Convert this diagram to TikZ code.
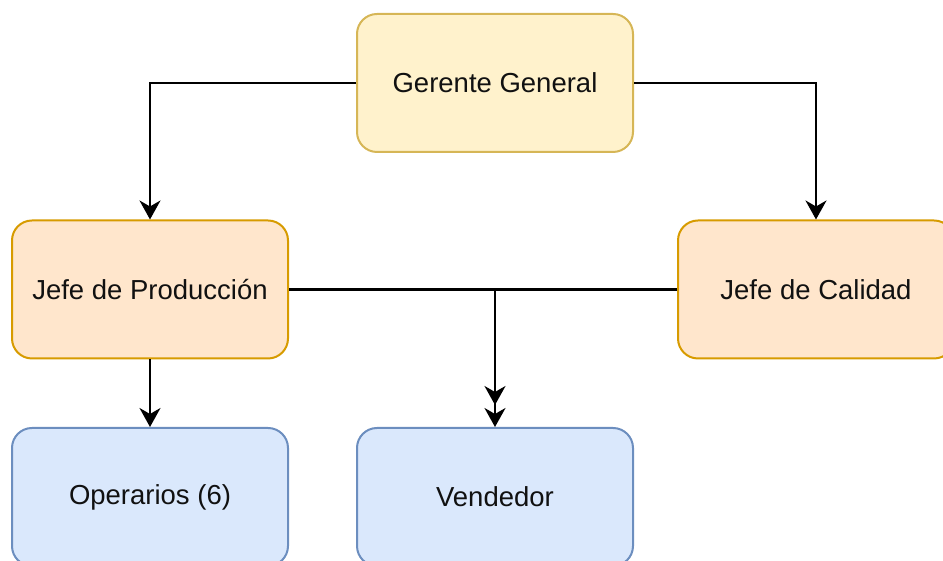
\documentclass[tikz,border=0pt]{standalone}
\usepackage{fontspec}
\setmainfont{Liberation Sans}
\usepackage{tikz}
\usetikzlibrary{positioning,calc,arrows.meta}
\usepackage{xcolor}

\definecolor{ggfill}{HTML}{FFF2CC}
\definecolor{ggline}{HTML}{D6B656}
\definecolor{jefill}{HTML}{FFE6CC}
\definecolor{jeline}{HTML}{D79B00}
\definecolor{opfill}{HTML}{DAE8FC}
\definecolor{opline}{HTML}{6C8EBF}
\definecolor{txt}{HTML}{111111}

\tikzset{
  box/.style={rectangle, rounded corners=20pt, line width=2pt,
    minimum width=276pt, minimum height=138pt, text=txt,
    font=\fontsize{27.5}{33}\selectfont},
  arr/.style={line width=2.2pt, -{Stealth[length=19pt, width=21pt, inset=6pt]}}
}

\begin{document}
\begin{tikzpicture}[x=1pt, y=1pt]
    \useasboundingbox (0,0) rectangle (943,561);
    \clip (0,0) rectangle (943,561);

      % Top
      \node[box, fill=ggfill, draw=ggline] (gerente) at (495, 478) {Gerente General};

      % Jefes
      \node[box, fill=jefill, draw=jeline] (produccion) at (150, 271.5) {Jefe de Producción};
      \node[box, fill=jefill, draw=jeline] (calidad) at (816, 271.5) {Jefe de Calidad};

      % Bottom
      \node[box, fill=opfill, draw=opline] (operarios) at (150, 64) {Operarios (6)};
      \node[box, fill=opfill, draw=opline] (vendedor) at (495, 64) {Vendedor};
      \coordinate (vstop) at ($(vendedor.north) + (0, 22)$);

      % Connectors
      \draw[arr] (gerente.west) -| (produccion.north);
      \draw[arr] (gerente.east) -| (calidad.north);
      \draw[arr] (produccion.south) -- (operarios.north);
      \draw[arr] (produccion.east) -| (vendedor.north);
      \draw[arr] (calidad.west) -| (vstop);
  \end{tikzpicture}
\end{document}
